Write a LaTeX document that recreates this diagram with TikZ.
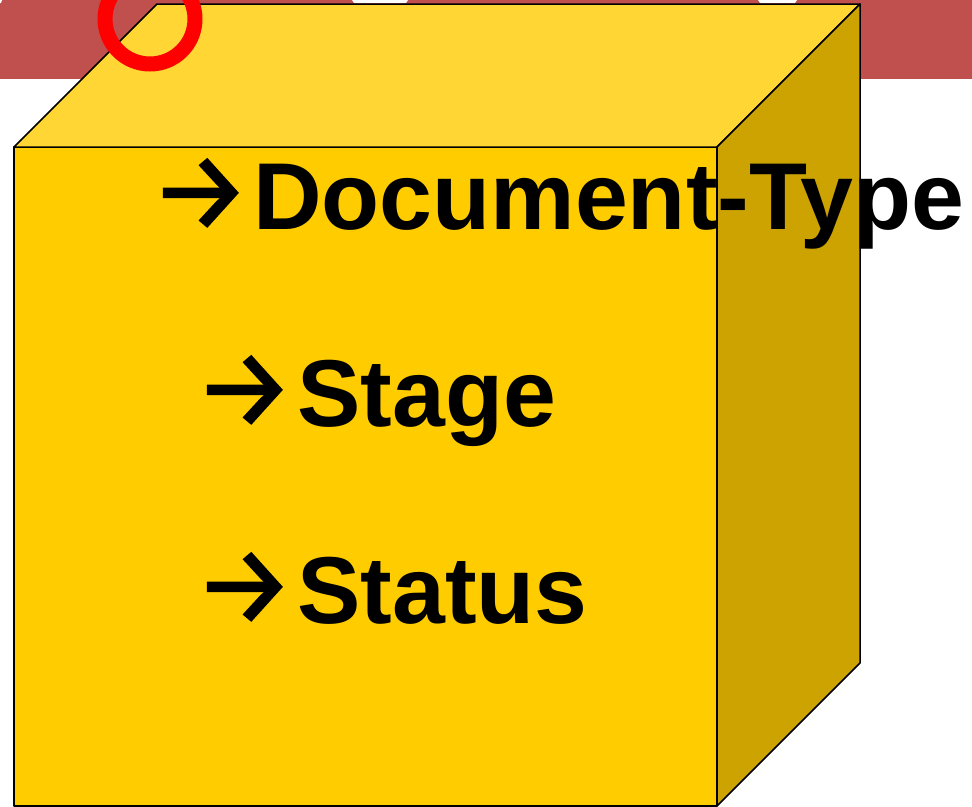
\documentclass[tikz,border=0pt]{standalone}
\usepackage{fontspec}
\setmainfont{Liberation Sans}
\newfontfamily\arrowfont[FakeBold=1.5]{Fira Sans}
\definecolor{bandred}{HTML}{C0504D}
\definecolor{frontY}{HTML}{FFCC00}
\definecolor{topY}{HTML}{FFD633}
\definecolor{sideY}{HTML}{CCA300}
\definecolor{ringred}{HTML}{FF0000}
\newcommand{\bigarrow}{\resizebox{100pt}{70pt}{\arrowfont\mdseries →}\hspace{3pt}}
\tikzset{
  face/.style={draw=black, line width=1.5pt, line join=round},
  item/.style={anchor=base west, inner sep=0pt, font=\fontsize{95}{114}\selectfont\bfseries, text=black},
}
\begin{document}
\begin{tikzpicture}[x=1pt,y=-1pt]
\useasboundingbox (0,0) rectangle (972,806);
% red band
\fill[bandred] (0,0) rectangle (972,79);
\fill[white] (0,0) -- (2,0) -- (1,3) -- (0,3) -- cycle;
\fill[white] (352,0) -- (408,0) -- (406,3) -- (354,3) -- cycle;
\fill[white] (758,0) -- (797,0) -- (795,3) -- (760,3) -- cycle;
% cube
\coordinate (ftl) at (14,147);
\coordinate (ftr) at (717,147);
\coordinate (fbl) at (14,806);
\coordinate (fbr) at (717,806);
\coordinate (btl) at (157,4);
\coordinate (btr) at (860,4);
\coordinate (bbr) at (860,663);
\filldraw[face, fill=frontY] (ftl) -- (ftr) -- (fbr) -- (fbl) -- cycle;
\filldraw[face, fill=topY] (ftl) -- (btl) -- (btr) -- (ftr) -- cycle;
\filldraw[face, fill=sideY] (ftr) -- (btr) -- (bbr) -- (fbr) -- cycle;
% red ring
\draw[ringred, line width=15pt] (150,19) circle[radius=45];
% texts
\node[item] (doc) at (150,229) {\bigarrow Document-Type};
\node[item] (stage) at (194,426) {\bigarrow Stage};
\node[item] (status) at (194,623) {\bigarrow Status};
\end{tikzpicture}
\end{document}
